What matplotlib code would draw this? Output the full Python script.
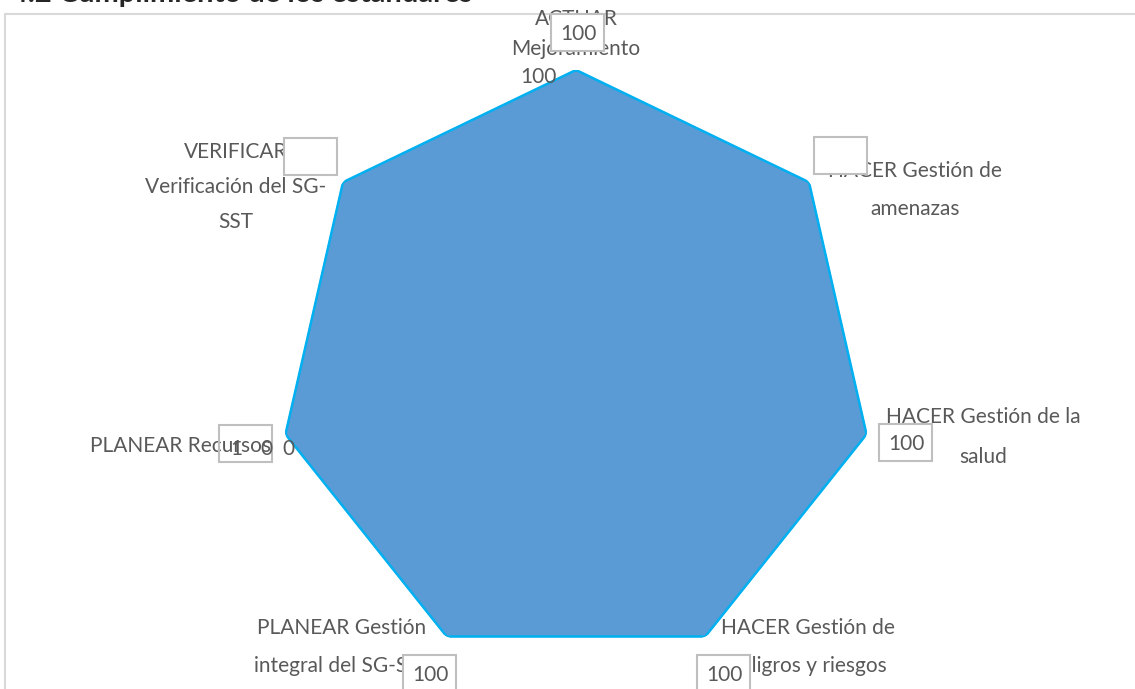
import numpy as np
import matplotlib.pyplot as plt
from matplotlib.patches import Rectangle

# data
categories = [
    "ACTUAR\nMejoramiento",
    "HACER Gestión de\namenazas",
    "HACER Gestión de la\nsalud",
    "HACER Gestión de\npeligros y riesgos",
    "PLANEAR Gestión\nintegral del SG-SST",
    "PLANEAR Recursos",
    "VERIFICAR\nVerificación del SG-\nSST",
]
values = [100, 100, 100, 100, 100, 100, 100]
title = "4.2 Cumplimiento de los estándares"

W, H = 1135, 689
plt.rcParams['font.family'] = ['Lato', 'DejaVu Sans']
txt_col = '#595959'
fs = 15

fig = plt.figure(figsize=(W / 100, H / 100), dpi=100)

def fx(x):
    return x / W

def fy(y):
    return 1 - y / H

# chart frame
fig.patches.append(Rectangle((fx(5), fy(700)), fx(1140), 686 / H,
                             transform=fig.transFigure, fill=False,
                             edgecolor='#D9D9D9', linewidth=1.5))
fig.text(fx(11), fy(2), title, fontsize=21, fontweight='bold',
         color='#262626', va='baseline', ha='left')

cx, cy, R = 576, 368, 298
ax = fig.add_axes([fx(cx - R), fy(cy + R), 2 * R / W, 2 * R / H], projection='polar')
ax.set_theta_offset(np.pi / 2)
ax.set_theta_direction(-1)
ax.set_ylim(0, 100)
ax.grid(False)
ax.spines['polar'].set_visible(False)
ax.set_xticks([])
ax.set_yticks([])
ax.patch.set_alpha(0)

n = len(categories)
theta = np.linspace(0, 2 * np.pi, n, endpoint=False)
tt = np.append(theta, theta[0])
vv = np.append(values, values[0])
ax.fill(tt, vv, color='#5B9BD5', zorder=2)
ax.plot(tt, vv, color='#00B0F0', linewidth=1.8, zorder=3)

# category label layout (pixel anchor, alignment, line spacing)
lab_pos = [(576, 34), (915, 190), (983, 437), (808, 647), (342, 647), (90, 446), (236, 187)]
lab_ha = ['center', 'center', 'center', 'center', 'center', 'left', 'center']
lab_ls = [1.65, 2.1, 2.2, 2.1, 2.1, 1.5, 1.95]
for lab, (x, y), ha, ls in zip(categories, lab_pos, lab_ha, lab_ls):
    fig.text(fx(x), fy(y), lab, fontsize=fs, color=txt_col, ha=ha, va='center',
             multialignment='center', linespacing=ls, zorder=5)

# data label boxes (Excel artefacts): x, y, show value, white fill
boxes = [(551, 14, True, True), (814, 137, False, True), (879, 424, True, True),
         (697, 655, True, True), (403, 655, True, True), (219, 425, False, False),
         (284, 138, False, True)]
for (bx, by, show, filled), v in zip(boxes, values):
    fig.patches.append(Rectangle((fx(bx), fy(by + 37)), 53 / W, 37 / H,
                                 transform=fig.transFigure,
                                 facecolor='white' if filled else 'none',
                                 edgecolor='#BFBFBF', linewidth=1.5, zorder=6))
    if show:
        fig.text(fx(bx + 27), fy(by + 20), str(v), fontsize=fs, color=txt_col,
                 ha='center', va='center', zorder=7)

# stray labels
fig.text(fx(538), fy(77), str(values[0]), fontsize=fs, color=txt_col,
         ha='center', va='center', zorder=7)
for ch, x in zip(str(values[5]), [236, 266, 288]):
    fig.text(fx(x), fy(449), ch, fontsize=fs, color=txt_col,
             ha='center', va='center', zorder=7)

fig.savefig('out.png', dpi=100)
